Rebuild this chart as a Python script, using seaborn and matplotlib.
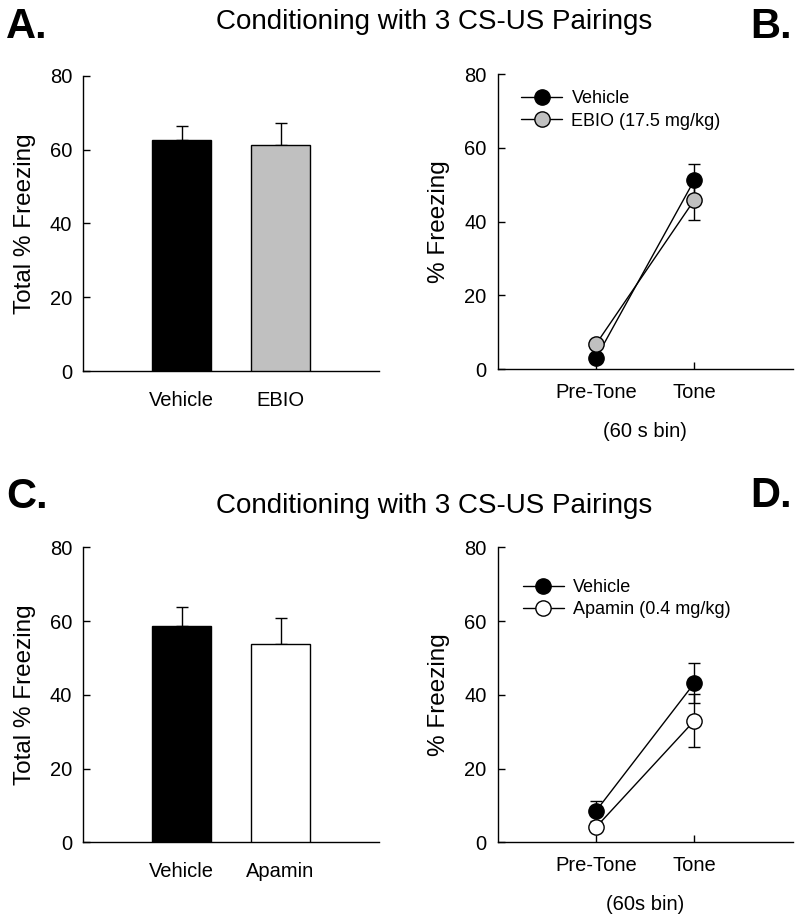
import pandas as pd
import matplotlib
matplotlib.use('Agg')
import matplotlib.pyplot as plt
import seaborn as sns

# panel A / C: total freezing (bars, mean + sem)
groups_a = ['Vehicle', 'EBIO']
total_a = [62.5, 61.4]
sem_a = [4.0, 5.9]

groups_c = ['Vehicle', 'Apamin']
total_c = [58.7, 53.7]
sem_c = [5.0, 7.1]

# panel B / D: pre-tone vs tone
phases = ['Pre-Tone', 'Tone']
veh_b = [3.0, 51.3]
veh_b_sem = [1.0, 4.2]
ebio_b = [6.8, 45.9]
ebio_b_sem = [1.0, 5.5]

veh_d = [8.5, 43.2]
veh_d_sem = [2.7, 5.5]
apa_d = [4.1, 33.0]
apa_d_sem = [1.0, 7.1]

sns.set_style('ticks')
plt.rcParams['font.family'] = ['Liberation Sans', 'DejaVu Sans']
plt.rcParams.update({'text.color': 'black', 'axes.labelcolor': 'black',
                     'xtick.color': 'black', 'ytick.color': 'black',
                     'axes.edgecolor': 'black'})

fig = plt.figure(figsize=(8, 9.14), dpi=100)
axA = fig.add_axes([0.104, 0.594, 0.37, 0.323])
axB = fig.add_axes([0.622, 0.596, 0.369, 0.323])
axC = fig.add_axes([0.104, 0.0784, 0.37, 0.3228])
axD = fig.add_axes([0.622, 0.0784, 0.369, 0.3228])


def style_axis(ax, ylabel):
    ax.set_ylim(0, 80)
    ax.set_yticks([0, 20, 40, 60, 80])
    ax.set_xlim(-1, 2)
    sns.despine(ax=ax)
    ax.tick_params(axis='y', direction='in', length=5, width=1, labelsize=14.5, pad=8)
    ax.tick_params(axis='x', direction='in', length=5, width=1, labelsize=14.5, pad=10)
    for s in ['left', 'bottom']:
        ax.spines[s].set_linewidth(1)
        ax.spines[s].set_color('black')
    ax.set_ylabel(ylabel, fontsize=17.5, labelpad=10)


def bar_panel(ax, names, vals, errs, colors):
    df = pd.DataFrame({'group': names, 'val': vals})
    sns.barplot(data=df, x='group', y='val', hue='group', palette=colors,
                width=0.6, edgecolor='black', linewidth=1, legend=False, ax=ax, zorder=3)
    ax.errorbar(range(len(names)), vals, yerr=[[0] * len(errs), errs], fmt='none',
                ecolor='black', elinewidth=1, capsize=4, capthick=1, zorder=2)
    style_axis(ax, 'Total % Freezing')
    ax.tick_params(axis='x', length=0, pad=14)
    ax.set_xlabel('')


def line_panel(ax, series, xlabel, legend_anchor):
    for name, vals, errs, fc in series:
        df = pd.DataFrame({'phase': phases, 'val': vals})
        ax.errorbar(range(len(phases)), vals, yerr=errs, fmt='none', ecolor='black',
                    elinewidth=1, capsize=4, capthick=1, zorder=2)
        sns.lineplot(data=df, x='phase', y='val', color='black', linewidth=1, marker='o',
                     markersize=11, markerfacecolor=fc, markeredgecolor='black',
                     markeredgewidth=1, label=name, ax=ax, zorder=3)
    style_axis(ax, '% Freezing')
    ax.set_xlabel(xlabel, fontsize=14.5, labelpad=14)
    ax.legend(loc='upper left', bbox_to_anchor=legend_anchor, frameon=False, fontsize=13,
              borderaxespad=0, borderpad=0, handlelength=2.3, handletextpad=0.5,
              labelspacing=0.3)


bar_panel(axA, groups_a, total_a, sem_a, ['black', '#c0c0c0'])
bar_panel(axC, groups_c, total_c, sem_c, ['black', 'white'])

line_panel(axB, [('Vehicle', veh_b, veh_b_sem, 'black'),
                 ('EBIO (17.5 mg/kg)', ebio_b, ebio_b_sem, '#c0c0c0')],
           '(60 s bin)', (0.079, 0.945))
line_panel(axD, [('Vehicle', veh_d, veh_d_sem, 'black'),
                 ('Apamin (0.4 mg/kg)', apa_d, apa_d_sem, 'white')],
           '(60s bin)', (0.085, 0.893))

title = 'Conditioning with 3 CS-US Pairings'
fig.text(0.543, 1 - 29 / 914, title, ha='center', va='baseline', fontsize=20)
fig.text(0.543, 1 - 513 / 914, title, ha='center', va='baseline', fontsize=20)

fig.text(6 / 800, 1 - 38 / 914, 'A.', ha='left', va='baseline', fontsize=30, fontweight='bold')
fig.text(792 / 800, 1 - 38 / 914, 'B.', ha='right', va='baseline', fontsize=30, fontweight='bold')
fig.text(6 / 800, 1 - 508 / 914, 'C.', ha='left', va='baseline', fontsize=30, fontweight='bold')
fig.text(792 / 800, 1 - 507 / 914, 'D.', ha='right', va='baseline', fontsize=30, fontweight='bold')

fig.savefig('out.png', dpi=100)
